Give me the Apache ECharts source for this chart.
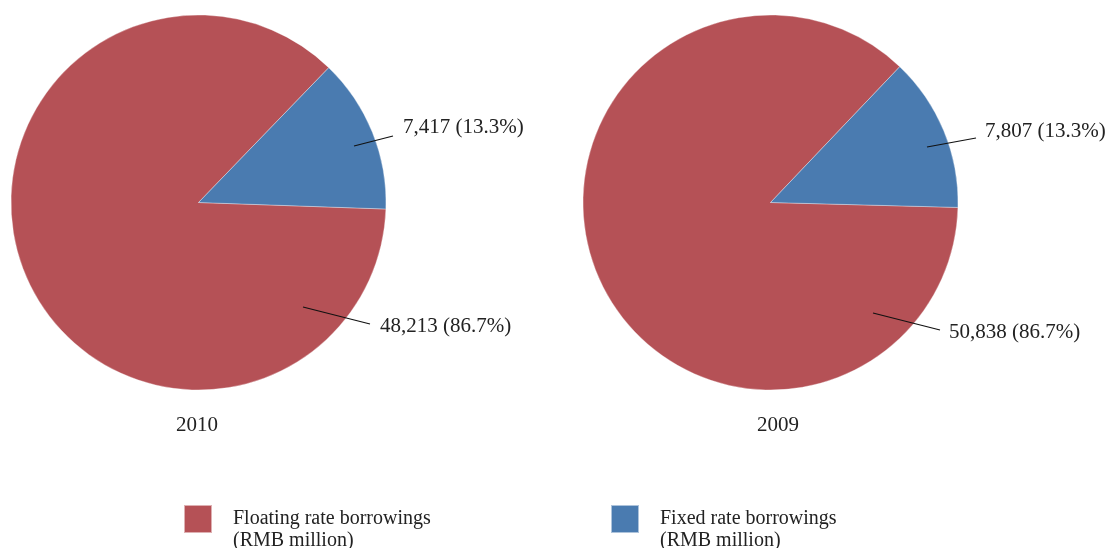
<!DOCTYPE html>
<html>
<head>
<meta charset="utf-8">
<script src="https://cdn.jsdelivr.net/npm/echarts@6/dist/echarts.min.js"></script>
<style>
  html, body { margin: 0; padding: 0; background: #fff; }
  #chart { width: 1109px; height: 548px; }
</style>
</head>
<body>
<div id="chart"></div>
<script>
// Borrowings by interest type (RMB million)
const years = ['2010', '2009'];
const categories = ['Floating rate borrowings', 'Fixed rate borrowings'];
const floatingRate = [48213, 50838];
const fixedRate = [7417, 7807];
const unitNote = '(RMB million)';

const FONT = '"Liberation Serif", "DejaVu Serif", serif';
const COLORS = ['#b55156', '#4a7bb0'];

// Pie geometry (pixels)
const pieCenters = [[198.5, 202.5], [770.5, 202.5]];
const pieRadius = 187.5;
const startAngles = [-2, -1.5];
const titleX = [197, 778];

// Leader-line geometry, offsets from each pie centre: line start, line end, text anchor
const guides = [
  [
    { start: [104.5, 104.5], end: [171.5, 121.5], text: [181.5, 123.5] },
    { start: [155.5, -56.5], end: [194.5, -66.5], text: [204.5, -75.5] }
  ],
  [
    { start: [102.5, 110.5], end: [169.5, 127.5], text: [178.5, 129.5] },
    { start: [156.5, -55.5], end: [205.5, -64.5], text: [214.5, -71.5] }
  ]
];

const chart = echarts.init(document.getElementById('chart'), null, { renderer: 'canvas' });

function pieData(i) {
  return [
    { name: categories[0], value: floatingRate[i] },
    { name: categories[1], value: fixedRate[i] }
  ];
}

function basePie(i) {
  return {
    type: 'pie',
    name: years[i],
    center: pieCenters[i],
    radius: pieRadius,
    startAngle: startAngles[i],
    clockwise: true,
    percentPrecision: 1,
    avoidLabelOverlap: false,
    silent: true,
    emphasis: { disabled: true },
    data: pieData(i)
  };
}

// Filled slices
const slices = years.map((y, i) => Object.assign(basePie(i), {
  z: 2,
  itemStyle: { borderColor: 'rgba(255,255,255,0.55)', borderWidth: 0.6 },
  label: { show: false },
  labelLine: { show: false }
}));

// Value labels with leader lines, layered above the slices
const labels = years.map((y, i) => Object.assign(basePie(i), {
  z: 3,
  itemStyle: { color: 'rgba(0,0,0,0)', borderWidth: 0 },
  label: {
    show: true,
    position: 'outside',
    fontFamily: FONT,
    fontSize: 21,
    color: '#222',
    opacity: 1,
    formatter: p => p.value.toLocaleString('en-US') + ' (' + p.percent.toFixed(1) + '%)'
  },
  labelLine: {
    show: true,
    smooth: false,
    lineStyle: { color: '#111', width: 1.2, opacity: 1 }
  },
  labelLayout: function (params) {
    const c = pieCenters[i];
    const g = guides[i][params.dataIndex];
    const pt = o => [c[0] + o[0], c[1] + o[1]];
    const t = pt(g.text);
    return {
      x: t[0],
      y: t[1],
      align: 'left',
      verticalAlign: 'middle',
      labelLinePoints: [pt(g.start), pt(g.end), pt(g.end)]
    };
  }
}));

const legendBase = {
  orient: 'horizontal',
  top: 495,
  padding: 0,
  icon: 'rect',
  itemWidth: 28,
  itemHeight: 28,
  selectedMode: false,
  // a small spacer line on top lowers the two text lines against the swatch
  formatter: name => '{s| }\n{t|' + name + '}\n{t|' + unitNote + '}',
  textStyle: {
    fontFamily: FONT,
    fontSize: 20,
    color: '#222',
    padding: [0, 0, 0, 16],
    rich: {
      s: { fontSize: 4, lineHeight: 22 },
      t: { fontFamily: FONT, fontSize: 20, color: '#222', lineHeight: 22 }
    }
  }
};

chart.setOption({
  backgroundColor: '#fff',
  color: COLORS,
  animation: false,
  title: years.map((year, i) => ({
    text: year,
    left: titleX[i],
    top: 415,
    textAlign: 'center',
    padding: 0,
    textStyle: { fontFamily: FONT, fontSize: 21, fontWeight: 'normal', color: '#222' }
  })),
  legend: [
    Object.assign({}, legendBase, { left: 183, data: [categories[0]] }),
    Object.assign({}, legendBase, { left: 610, data: [categories[1]] })
  ],
  series: slices.concat(labels)
});
</script>
</body>
</html>
